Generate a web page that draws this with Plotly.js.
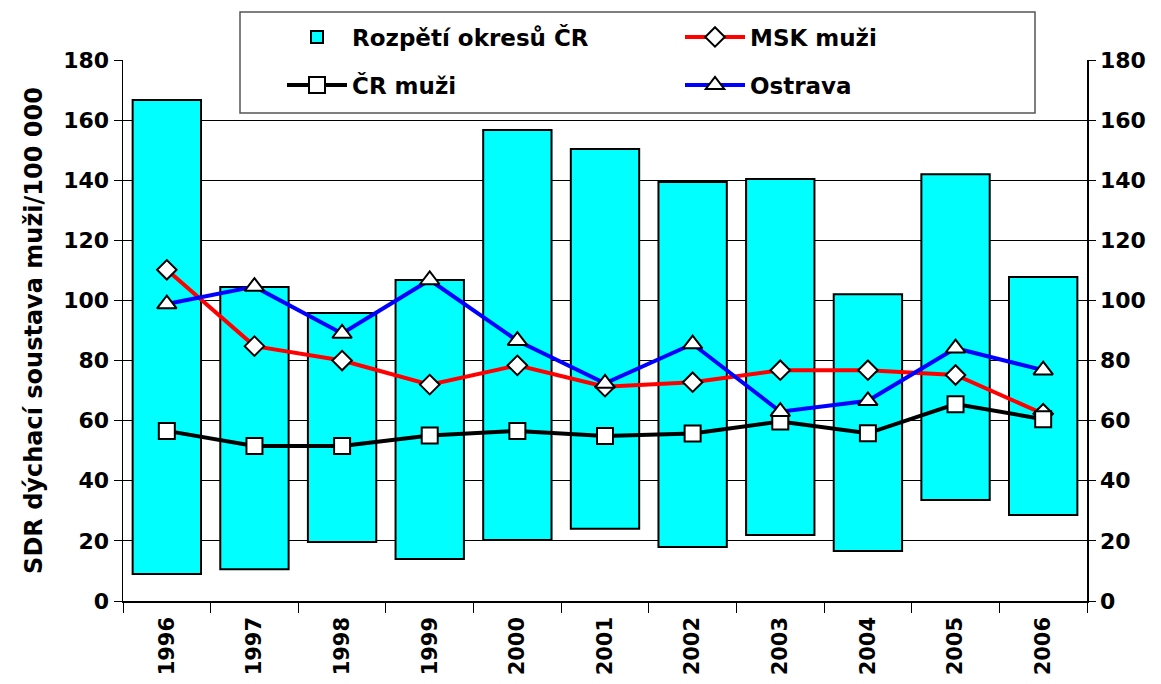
<!DOCTYPE html>
<html>
<head>
<meta charset="utf-8">
<script src="https://cdn.plot.ly/plotly-3.0.1.min.js"></script>
<style>html,body{margin:0;padding:0;background:#fff;}#chart{width:1161px;height:684px;}</style>
</head>
<body>
<div id="chart"></div>
<script>
const years = ['1996','1997','1998','1999','2000','2001','2002','2003','2004','2005','2006'];
const rangeMin = [9.0, 10.6, 19.6, 14.0, 20.3, 24.0, 18.0, 22.0, 16.6, 33.6, 28.6];
const rangeMax = [166.7, 104.5, 95.8, 106.8, 156.7, 150.4, 139.4, 140.4, 102.1, 142.0, 107.8];
const mskMuzi = [110.2, 84.8, 80.0, 72.0, 78.4, 71.3, 72.8, 76.8, 76.8, 75.2, 62.3];
const crMuzi = [56.6, 51.6, 51.6, 55.1, 56.6, 54.9, 55.7, 59.7, 55.8, 65.5, 60.5];
const ostrava = [98.8, 104.6, 89.0, 106.8, 86.6, 72.4, 85.5, 63.0, 66.6, 84.1, 76.8];

const FONT = 'DejaVu Sans, Liberation Sans, Arial, sans-serif';

const traces = [
  {
    type: 'bar', name: 'Rozpětí okresů ČR', x: years,
    y: rangeMax.map((v, i) => v - rangeMin[i]), base: rangeMin,
    marker: {color: '#00FFFF', line: {color: '#000', width: 2}},
    legend: 'legend', hoverinfo: 'skip'
  },
  {
    type: 'scatter', mode: 'lines+markers', name: 'MSK muži', x: years, y: mskMuzi,
    line: {color: '#FF0000', width: 4},
    marker: {symbol: 'diamond', size: 15, color: '#fff', line: {color: '#000', width: 2}},
    legend: 'legend2'
  },
  {
    type: 'scatter', mode: 'lines+markers', name: 'ČR muži', x: years, y: crMuzi,
    line: {color: '#000', width: 4},
    marker: {symbol: 'square', size: 16, color: '#fff', line: {color: '#000', width: 2}},
    legend: 'legend3'
  },
  {
    type: 'scatter', mode: 'lines+markers', name: 'Ostrava', x: years, y: ostrava,
    line: {color: '#0000FF', width: 4},
    marker: {symbol: 'triangle-up', size: 17, color: '#fff', line: {color: '#000', width: 2}},
    legend: 'legend4'
  },
  {
    // invisible helper so the right-hand axis is drawn
    type: 'scatter', mode: 'markers', x: years, y: crMuzi, yaxis: 'y2',
    marker: {opacity: 0}, showlegend: false, hoverinfo: 'skip'
  }
];

const L = 123, R = 74, T = 60, B = 83, W = 1161, H = 684;
const pw = W - L - R, ph = H - T - B;
const px = x => (x - L) / pw;
const py = y => (H - B - y) / ph;

const legendCommon = {
  orientation: 'v', xanchor: 'left', yanchor: 'middle',
  bgcolor: 'rgba(0,0,0,0)', borderwidth: 0, itemwidth: 60,
  font: {family: FONT, size: 23, color: '#000', weight: 'bold'},
  itemclick: false
};

const tickFont = {family: FONT, size: 22, weight: 'bold', color: '#000'};

const layout = {
  width: W, height: H,
  margin: {l: L, r: R, t: T, b: B},
  paper_bgcolor: '#fff', plot_bgcolor: '#fff',
  showlegend: true,
  bargap: 0.22,
  font: {family: FONT, color: '#000'},
  xaxis: {
    type: 'category', tickson: 'boundaries', ticks: 'outside', ticklen: 10, tickcolor: '#000', tickwidth: 1,
    tickangle: -90, tickfont: {family: FONT, size: 21, weight: 'bold', color: '#000'}, ticklabelstandoff: 6,
    showline: true, linecolor: '#000', linewidth: 1.5, showgrid: false, zeroline: false,
    range: [-0.5, 10.5], fixedrange: true
  },
  yaxis: {
    range: [0, 180], dtick: 20, ticks: 'outside', ticklen: 8, tickcolor: '#000',
    tickfont: tickFont,
    showline: true, linecolor: '#000', linewidth: 1.5,
    showgrid: true, gridcolor: '#000', gridwidth: 1, zeroline: false,
    title: {text: 'SDR dýchací soustava muži/100 000', font: {family: FONT, size: 24, weight: 'bold', color: '#000'}, standoff: 14},
    fixedrange: true
  },
  yaxis2: {
    overlaying: 'y', side: 'right', range: [0, 180], dtick: 20, ticks: 'outside', ticklen: 7, tickcolor: '#000',
    tickfont: tickFont,
    showline: true, linecolor: '#000', linewidth: 1.5, showgrid: false, zeroline: false, fixedrange: true
  },
  legend: Object.assign({}, legendCommon, {x: px(282), y: py(37)}),
  legend2: Object.assign({}, legendCommon, {x: px(680), y: py(37)}),
  legend3: Object.assign({}, legendCommon, {x: px(282), y: py(85)}),
  legend4: Object.assign({}, legendCommon, {x: px(680), y: py(85)}),
  shapes: [
    {type: 'rect', xref: 'paper', yref: 'paper', x0: px(240), x1: px(1035), y0: py(113), y1: py(12),
     fillcolor: '#fff', line: {color: '#555', width: 1.5}, layer: 'above'}
  ]
};

Plotly.newPlot('chart', traces, layout, {displayModeBar: false, staticPlot: true});
</script>
</body>
</html>
